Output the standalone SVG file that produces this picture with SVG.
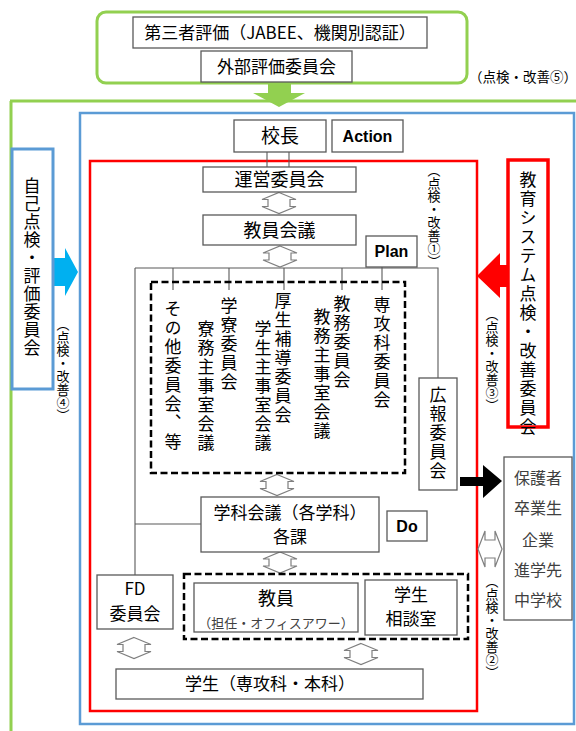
<svg xmlns="http://www.w3.org/2000/svg" width="576" height="731" viewBox="0 0 576 731">
<style>
.box{fill:#fff;stroke:#595959;stroke-width:1.3}
.ln{fill:none;stroke:#595959;stroke-width:1.1}
.t{font-family:"Noto Sans CJK JP","Noto Sans",sans-serif;fill:#000;font-size:17px}
.c{text-anchor:middle}
.v{writing-mode:vertical-rl;letter-spacing:2px}
.s{font-size:13px;letter-spacing:0}
.lbl{font-family:"Liberation Sans",Arial,sans-serif;font-weight:bold;font-size:16px;text-anchor:middle}
.g{fill:#404040}
.dash{fill:none;stroke:#000;stroke-width:2.5;stroke-dasharray:7 3.5}
</style>
<defs>
<path id="dArr" d="M0,-10.5 L17,-3.5 L11,-3.5 L11,3.5 L17,3.5 L0,10.5 L-17,3.5 L-11,3.5 L-11,-3.5 L-17,-3.5 Z" fill="#fff" stroke="#7f7f7f" stroke-width="1.2"/>
</defs>

<g id="frames">
<path d="M10,101 H576 M11,101 V731" fill="none" stroke="#92D050" stroke-width="3"/>
<rect x="80" y="113" width="494" height="611" fill="none" stroke="#5B9BD5" stroke-width="2.5"/>
<rect x="90" y="161" width="387" height="550" fill="none" stroke="#FF0000" stroke-width="2.5"/>
</g>

<g id="external">
<rect x="97" y="12" width="370" height="71" rx="9" fill="#fff" stroke="#92D050" stroke-width="3"/>
<rect class="box" x="133" y="17" width="294" height="31"/>
<text class="t c" x="280" y="39">第三者評価（JABEE、機関別認証）</text>
<rect class="box" x="201" y="51" width="151" height="31"/>
<text class="t c" x="276.5" y="72.5">外部評価委員会</text>
<text class="t" x="469" y="82" style="font-size:13.5px">（点検・改善⑤）</text>
</g>

<g id="connectors">
<path d="M268,83 H291 V93 H305 L279,107 L253,93 H268 Z" fill="#92D050"/>
<path d="M53,258 H65 V248 L78,272 L65,296 V286 H53 Z" fill="#00B0F0"/>
<path d="M477,276 L500,253 V265 H508 V287 H500 V298 Z" fill="#FF0000"/>
<path d="M460,477 H483 V465 L502,481 L483,498 V486 H460 Z" fill="#000"/>
<path d="M267,152 V167 M289,152 V167" class="ln"/>
<path d="M135,268 H438 V378 M173,268 V290 M229,268 V290 M284,268 V290 M342,268 V290 M382,267 V290 M135,268 V575 M135,524 H201" class="ln"/>
<use href="#dArr" x="279" y="203"/>
<use href="#dArr" x="280" y="256.5"/>
<use href="#dArr" x="277" y="485"/>
<use href="#dArr" x="280" y="562.5"/>
<use href="#dArr" x="134" y="648"/>
<use href="#dArr" x="361" y="654"/>
<path d="M478,549 L485,531 V540 H495 V531 L502,549 L495,567 V558 H485 V567 Z" fill="#fff" stroke="#7f7f7f" stroke-width="1.2"/>
</g>

<g id="self-eval">
<rect x="12" y="149" width="41" height="240" fill="#fff" stroke="#5B9BD5" stroke-width="3"/>
<text class="t v" x="32" y="177" style="letter-spacing:1px">自己点検・評価委員会</text>
<text class="t v s" x="63" y="318">（点検・改善④）</text>
</g>

<g id="principal">
<rect class="box" x="234" y="120" width="92" height="32"/>
<text class="t c" x="280" y="143" style="font-size:19px">校長</text>
</g>
<g id="action">
<rect class="box" x="332" y="120" width="71" height="32"/>
<text class="lbl" x="367.5" y="142">Action</text>
</g>
<g id="steering">
<rect class="box" x="203" y="167" width="153" height="25"/>
<text class="t c" x="279.5" y="186" style="font-size:18px">運営委員会</text>
</g>
<g id="faculty-meeting">
<rect class="box" x="203" y="215" width="153" height="30"/>
<text class="t c" x="279.5" y="236.5" style="font-size:18px">教員会議</text>
</g>
<g id="plan">
<rect class="box" x="366" y="236" width="51" height="31"/>
<text class="lbl" x="391.5" y="257">Plan</text>
</g>
<text class="t v s" x="434" y="164">（点検・改善①）</text>

<g id="committees">
<rect class="dash" x="151" y="282" width="254" height="191"/>
<text class="t v" x="382" y="296">専攻科委員会</text>
<text class="t v" x="342" y="295">教務委員会</text>
<text class="t v" x="322" y="308">教務主事室会議</text>
<text class="t v" x="283" y="292">厚生補導委員会</text>
<text class="t v" x="263" y="320">学生主事室会議</text>
<text class="t v" x="229" y="297">学寮委員会</text>
<text class="t v" x="206" y="320">寮務主事室会議</text>
<text class="t v" x="173" y="300">その他委員会、等</text>
</g>

<g id="pr">
<rect class="box" x="419" y="378" width="38" height="112"/>
<text class="t v" x="438" y="386">広報委員会</text>
</g>

<g id="system-committee">
<rect x="508" y="160" width="40" height="267" fill="#fff" stroke="#FF0000" stroke-width="3.5"/>
<text class="t v" x="528" y="171">教育システム点検・改善委員会</text>
<text class="t v s" x="492" y="308">（点検・改善③）</text>
</g>

<g id="stakeholders">
<rect x="504" y="457" width="68" height="163" fill="#fff" stroke="#595959" stroke-width="1.3"/>
<text class="t c g" x="538" y="483.5" style="font-size:16px">保護者</text>
<text class="t c g" x="538" y="513.5" style="font-size:16px">卒業生</text>
<text class="t c g" x="538" y="545.5" style="font-size:16px">企業</text>
<text class="t c g" x="538" y="575.5" style="font-size:16px">進学先</text>
<text class="t c g" x="538" y="605.5" style="font-size:16px">中学校</text>
<text class="t v s" x="492" y="575">（点検・改善②）</text>
</g>

<g id="dept-meeting">
<rect class="box" x="201" y="497" width="178" height="55"/>
<text class="t c" x="290" y="519">学科会議（各学科）</text>
<text class="t c" x="290" y="543">各課</text>
</g>
<g id="do">
<rect class="box" x="387" y="511" width="40" height="30"/>
<text class="lbl" x="407" y="532">Do</text>
</g>

<g id="fd">
<rect class="box" x="97" y="575" width="76" height="54"/>
<text class="t c" x="135" y="595">FD</text>
<text class="t c" x="135" y="620">委員会</text>
</g>

<g id="staff-group">
<rect class="dash" x="184" y="574" width="284" height="65"/>
</g>
<g id="teachers">
<rect class="box" x="194" y="583" width="164" height="49"/>
<text class="t c" x="276" y="605" style="font-size:18px">教員</text>
<text class="t c g" x="276" y="628" style="font-size:13px">（担任・オフィスアワー）</text>
</g>
<g id="counseling">
<rect class="box" x="365" y="580" width="92" height="55"/>
<text class="t c" x="411" y="601">学生</text>
<text class="t c" x="411" y="625">相談室</text>
</g>

<g id="students">
<rect class="box" x="116" y="669" width="307" height="30"/>
<text class="t c" x="270" y="690">学生（専攻科・本科）</text>
</g>
</svg>
